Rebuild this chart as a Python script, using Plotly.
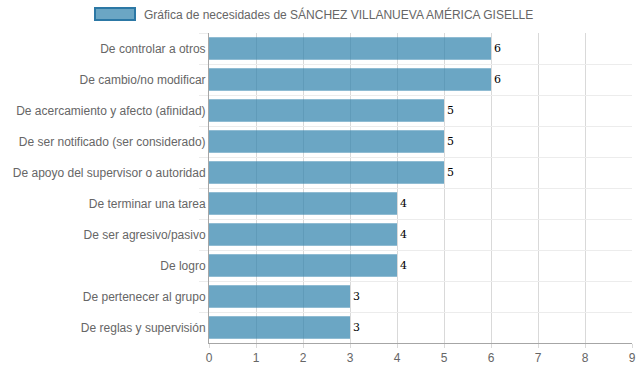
import plotly.graph_objects as go

categories = [
    "De controlar a otros",
    "De cambio/no modificar",
    "De acercamiento y afecto (afinidad)",
    "De ser notificado (ser considerado)",
    "De apoyo del supervisor o autoridad",
    "De terminar una tarea",
    "De ser agresivo/pasivo",
    "De logro",
    "De pertenecer al grupo",
    "De reglas y supervisión",
]
values = [6, 6, 5, 5, 5, 4, 4, 4, 3, 3]
x_ticks = list(range(0, 10))
series_name = "Gráfica de necesidades de SÁNCHEZ VILLANUEVA AMÉRICA GISELLE"

bar_fill = "rgba(44,128,171,0.7)"
bar_border = "rgba(44,120,165,1)"

W, H = 639, 372
L, T = 209, 33
R = W - 632
B = H - 343
PW, PH = W - L - R, H - T - B


def px_x(page_x):
    return (page_x - L) / PW


def px_y(page_y):
    return (H - B - page_y) / PH


fig = go.Figure()
fig.add_trace(go.Bar(
    x=values,
    y=categories,
    orientation="h",
    marker=dict(color=bar_fill, line=dict(width=0)),
    text=[str(v) for v in values],
    textposition="outside",
    textfont=dict(family="DejaVu Serif, serif", size=11, color="#000"),
    cliponaxis=False,
    name=series_name,
    showlegend=False,
    hoverinfo="skip",
))

fig.update_layout(
    width=W, height=H,
    margin=dict(l=L, r=R, t=T, b=B, autoexpand=False),
    paper_bgcolor="white", plot_bgcolor="white",
    bargap=0.28,
    font=dict(family="Liberation Sans, Arial, sans-serif", size=12, color="#666"),
    xaxis=dict(
        range=[0, 9], tickvals=x_ticks, showgrid=True, gridcolor="#d9d9d9", gridwidth=1,
        zeroline=False, showline=True, linecolor="#a6a6a6", linewidth=1,
        ticks="outside", ticklen=4, tickcolor="#d9d9d9", automargin=False,
        tickfont=dict(size=12, color="#666"),
    ),
    yaxis=dict(
        autorange="reversed", tickson="boundaries", showgrid=True, gridcolor="#ececec",
        gridwidth=1, showline=True, linecolor="#a6a6a6", linewidth=1,
        ticks="outside", ticklen=9, tickcolor="#ececec", automargin=False,
        tickfont=dict(size=12, color="#666"),
    ),
    shapes=[dict(
        type="rect", xref="paper", yref="paper",
        x0=px_x(95), x1=px_x(135),
        y0=px_y(20), y1=px_y(8),
        fillcolor=bar_fill, line=dict(color=bar_border, width=2),
    )],
    annotations=[dict(
        xref="paper", yref="paper", x=px_x(142), y=px_y(14),
        xanchor="left", yanchor="middle", text=series_name, showarrow=False,
        font=dict(size=12, color="#666"),
    )],
)

fig.write_html(
    "out.html",
    config={"displayModeBar": False, "staticPlot": True},
    post_script="document.body.style.margin='0';document.body.style.overflow='hidden';",
)
